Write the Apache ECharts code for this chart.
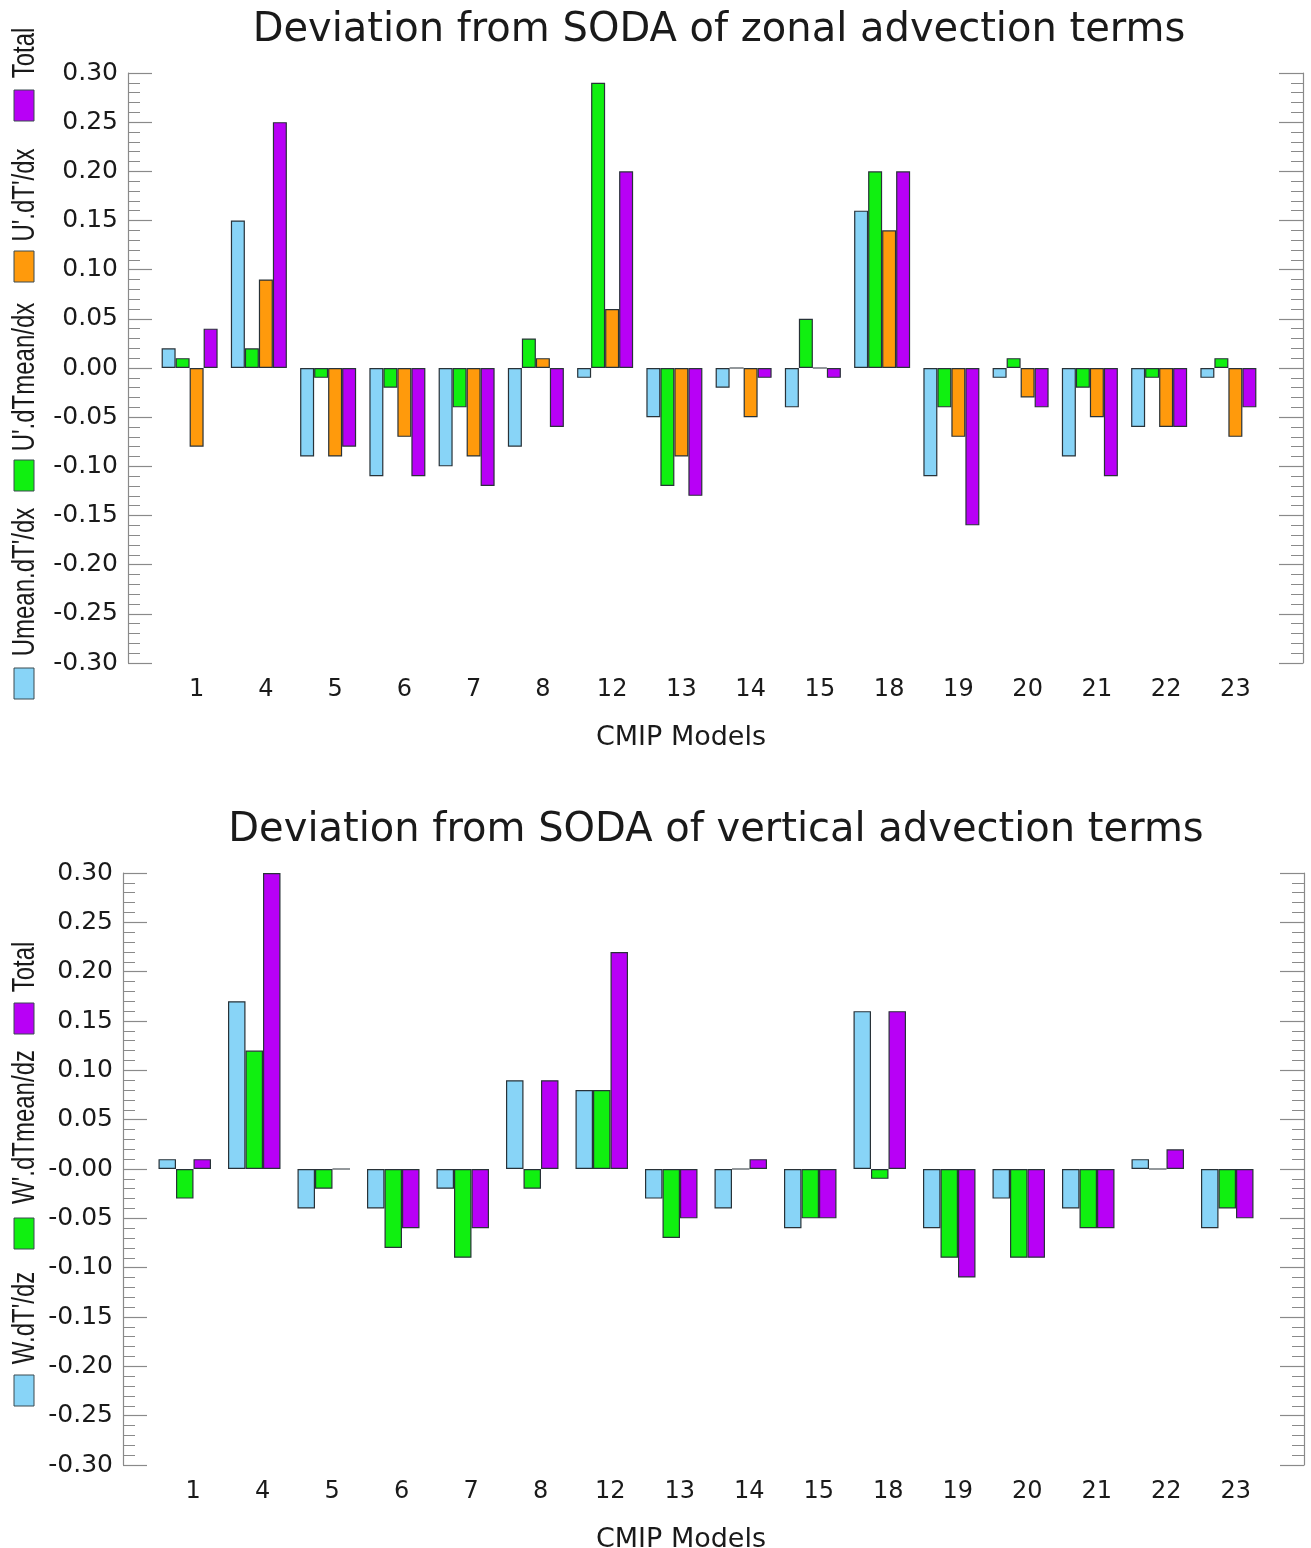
<!DOCTYPE html>
<html>
<head>
<meta charset="utf-8">
<script src="https://cdn.jsdelivr.net/npm/echarts@6/dist/echarts.min.js"></script>
<style>
html,body{margin:0;padding:0;background:#fff;}
#chart{width:1311px;height:1548px;}
</style>
</head>
<body>
<div id="chart"></div>
<script>
const categories = ['1','4','5','6','7','8','12','13','14','15','18','19','20','21','22','23'];

// Zonal advection terms (top panel)
const zonalNames = ["Umean.dT'/dx", "U'.dTmean/dx", "U'.dT'/dx", "Total"];
const zonalUmeanDTp = [0.02,0.15,-0.09,-0.11,-0.10,-0.08,-0.01,-0.05,-0.02,-0.04,0.16,-0.11,-0.01,-0.09,-0.06,-0.01];
const zonalUpDTmean = [0.01,0.02,-0.01,-0.02,-0.04,0.03,0.29,-0.12,0,0.05,0.20,-0.04,0.01,-0.02,-0.01,0.01];
const zonalUpDTp    = [-0.08,0.09,-0.09,-0.07,-0.09,0.01,0.06,-0.09,-0.05,0,0.14,-0.07,-0.03,-0.05,-0.06,-0.07];
const zonalTotal    = [0.04,0.25,-0.08,-0.11,-0.12,-0.06,0.20,-0.13,-0.01,-0.01,0.20,-0.16,-0.04,-0.11,-0.06,-0.04];

// Vertical advection terms (bottom panel)
const vertNames = ["W.dT'/dz", "W'.dTmean/dz", "Total"];
const vertWDTp     = [0.01,0.17,-0.04,-0.04,-0.02,0.09,0.08,-0.03,-0.04,-0.06,0.16,-0.06,-0.03,-0.04,0.01,-0.06];
const vertWpDTmean = [-0.03,0.12,-0.02,-0.08,-0.09,-0.02,0.08,-0.07,0,-0.05,-0.01,-0.09,-0.09,-0.06,0,-0.04];
const vertTotal    = [0.01,0.30,0,-0.06,-0.06,0.09,0.22,-0.05,0.01,-0.05,0.16,-0.11,-0.09,-0.06,0.02,-0.05];

const titles = ['Deviation from SODA of zonal advection terms', 'Deviation from SODA of vertical advection terms'];
const xName = 'CMIP Models';

const C_BLUE = '#88d4f7', C_GREEN = '#10f010', C_ORANGE = '#ff9a0c', C_PURPLE = '#b800f6';
const FONT = 'DejaVu Sans';
const AX = '#8a8a8a';

function yAxisDef(grid, pos, offset, showLabel, zeroText) {
  return {
    type: 'value', gridIndex: grid, position: pos, offset: offset,
    min: -0.3, max: 0.3, interval: 0.05,
    axisLine: {show: true, lineStyle: {color: AX, width: 1.2}},
    axisTick: {show: true, inside: true, length: 24, lineStyle: {color: AX, width: 1.2}},
    minorTick: {show: true, splitNumber: 5, length: 12, lineStyle: {color: AX, width: 1}},
    splitLine: {show: false},
    axisLabel: {
      show: showLabel, margin: 10, fontFamily: FONT, fontSize: 25, color: '#1a1a1a',
      formatter: v => Math.abs(v) < 1e-9 ? zeroText : v.toFixed(2)
    }
  };
}
function xAxisDef(grid, pad) {
  return {
    type: 'category', gridIndex: grid, data: categories,
    axisLine: {show: false}, axisTick: {show: false}, splitLine: {show: false},
    axisLabel: {margin: 15, fontFamily: FONT, fontSize: 24, color: '#1a1a1a', interval: 0, padding: [0,0,0,pad]}
  };
}
function barSeries(name, data, color, xi, yi, w) {
  return {
    name: name, type: 'bar', data: data, xAxisIndex: xi, yAxisIndex: yi,
    barWidth: w, barGap: '0%',
    itemStyle: {color: color, borderColor: '#283238', borderWidth: 1.2},
    emphasis: {disabled: true}, animation: false
  };
}

function legendGraphics(items) {
  const g = [];
  items.forEach(it => {
    g.push({type: 'rect', shape: {x: 14, y: it.box, width: 20, height: 31},
            style: {fill: it.color, stroke: '#3a4a50', lineWidth: 1}});
    g.push({type: 'text', x: 25, y: it.ty, rotation: Math.PI / 2, scaleY: 1.3,
            style: {text: it.name, fill: '#1a1a1a', font: '24px "Liberation Sans"', align: 'center', verticalAlign: 'middle'}});
  });
  return g;
}

const graphics = legendGraphics([
  {name: zonalNames[0], color: C_BLUE,   box: 668, ty: 582},
  {name: zonalNames[1], color: C_GREEN,  box: 460, ty: 377},
  {name: zonalNames[2], color: C_ORANGE, box: 251, ty: 195},
  {name: zonalNames[3], color: C_PURPLE, box: 90,  ty: 53},
  {name: vertNames[0],  color: C_BLUE,   box: 1375, ty: 1318},
  {name: vertNames[1],  color: C_GREEN,  box: 1218, ty: 1127},
  {name: vertNames[2],  color: C_PURPLE, box: 1003, ty: 967}
]);

const chart = echarts.init(document.getElementById('chart'), null, {renderer: 'canvas'});
chart.setOption({
  backgroundColor: '#fff',
  animation: false,
  title: [
    {text: titles[0], left: 714, top: 6, textAlign: 'center',
     textStyle: {fontFamily: FONT, fontSize: 40, fontWeight: 'normal', color: '#1a1a1a'}},
    {text: titles[1], left: 711, top: 806, textAlign: 'center',
     textStyle: {fontFamily: FONT, fontSize: 40, fontWeight: 'normal', color: '#1a1a1a'}},
    {text: xName, left: 676, top: 719, textAlign: 'center',
     textStyle: {fontFamily: FONT, fontSize: 27, fontWeight: 'normal', color: '#1a1a1a'}},
    {text: xName, left: 676, top: 1521, textAlign: 'center',
     textStyle: {fontFamily: FONT, fontSize: 27, fontWeight: 'normal', color: '#1a1a1a'}}
  ],
  grid: [
    {left: 155, right: 48, top: 73, height: 590},
    {left: 150, right: 49, top: 873, height: 592}
  ],
  xAxis: [xAxisDef(0, 14), xAxisDef(1, 17)],
  yAxis: [
    yAxisDef(0, 'left', 27, true, '0.00'),
    yAxisDef(0, 'right', 40, false, '0.00'),
    yAxisDef(1, 'left', 27, true, '-0.00'),
    yAxisDef(1, 'right', 42, false, '-0.00')
  ],
  series: [
    barSeries(zonalNames[0], zonalUmeanDTp, C_BLUE, 0, 0, 14),
    barSeries(zonalNames[1], zonalUpDTmean, C_GREEN, 0, 0, 14),
    barSeries(zonalNames[2], zonalUpDTp, C_ORANGE, 0, 0, 14),
    barSeries(zonalNames[3], zonalTotal, C_PURPLE, 0, 0, 14),
    barSeries(vertNames[0], vertWDTp, C_BLUE, 1, 2, 17.5),
    barSeries(vertNames[1], vertWpDTmean, C_GREEN, 1, 2, 17.5),
    barSeries(vertNames[2], vertTotal, C_PURPLE, 1, 2, 17.5)
  ],
  graphic: graphics
});
</script>
</body>
</html>
